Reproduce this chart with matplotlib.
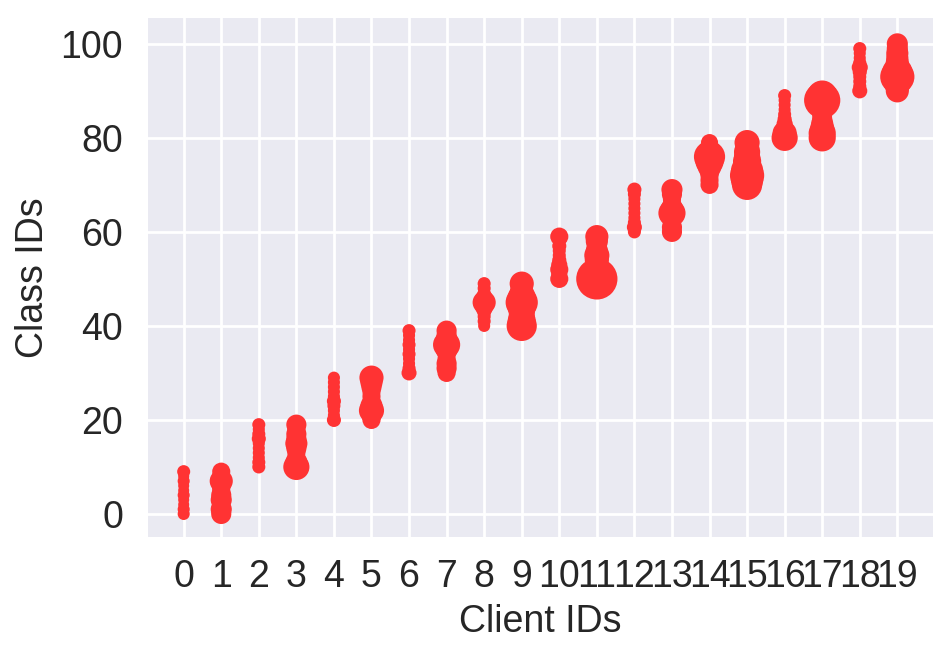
import matplotlib
matplotlib.use("Agg")
import matplotlib.pyplot as plt
import numpy as np

# ---- data ----
client_ids = list(range(20))
class_lo = [0, 0, 10, 10, 20, 20, 30, 30, 40, 40, 50, 50, 60, 60, 70, 70, 80, 80, 90, 90]
class_hi = [9, 9, 19, 19, 29, 29, 39, 39, 49, 49, 59, 59, 69, 69, 79, 79, 89, 89, 99, 100]
sample_counts = [
    [36, 36, 30, 30, 36, 30, 30, 36, 30, 42],
    [100, 110, 81, 110, 100, 81, 90, 132, 81, 81],
    [42, 42, 36, 36, 36, 36, 49, 42, 36, 42],
    [169, 121, 81, 81, 100, 121, 100, 100, 81, 100],
    [49, 36, 36, 42, 49, 36, 36, 36, 36, 36],
    [81, 100, 156, 121, 81, 81, 81, 100, 121, 144],
    [56, 42, 36, 36, 42, 36, 42, 36, 36, 42],
    [81, 100, 100, 81, 81, 121, 182, 121, 100, 100],
    [36, 42, 42, 49, 81, 132, 72, 42, 42, 42],
    [225, 196, 169, 169, 196, 256, 196, 144, 121, 144],
    [81, 64, 81, 64, 49, 42, 42, 49, 42, 81],
    [420, 196, 121, 121, 144, 156, 121, 100, 121, 132],
    [42, 56, 42, 36, 36, 36, 36, 36, 42, 49],
    [100, 100, 81, 100, 182, 121, 81, 81, 100, 110],
    [81, 81, 81, 100, 144, 196, 240, 144, 81, 72],
    [225, 256, 289, 256, 196, 196, 169, 169, 144, 156],
    [169, 144, 81, 64, 49, 42, 36, 36, 36, 42],
    [182, 182, 144, 121, 100, 100, 121, 169, 324, 225],
    [56, 42, 42, 42, 49, 64, 42, 36, 36, 42],
    [132, 144, 196, 289, 225, 144, 132, 121, 121, 110, 110],
]
y_ticks = [0, 20, 40, 60, 80, 100]
x_label = "Client IDs"
y_label = "Class IDs"

# ---- build point table ----
xs, ys, cs = [], [], []
for cid, lo, hi, counts in zip(client_ids, class_lo, class_hi, sample_counts):
    for cls, n in zip(range(lo, hi + 1), counts):
        xs.append(cid)
        ys.append(cls)
        cs.append(n)
xs = np.array(xs)
ys = np.array(ys)
cs = np.array(cs, dtype=float)

SIZE_SCALE = 2.1

plt.rcParams["font.family"] = ["Liberation Sans", "DejaVu Sans"]

fig = plt.figure(figsize=(9.52, 6.57), dpi=100)
ax = fig.add_axes([148 / 952, 1 - 537 / 657, (933 - 148) / 952, (537 - 18) / 657])
ax.set_facecolor("#EAEAF2")
ax.grid(True, color="white", linewidth=2.0)
ax.set_axisbelow(True)
for sp in ax.spines.values():
    sp.set_visible(False)

ax.scatter(xs, ys, s=cs * SIZE_SCALE, color="#FF3333", linewidths=0, zorder=3)

ax.set_xticks(client_ids)
ax.set_xticklabels([str(c) for c in client_ids])
ax.set_yticks(y_ticks)
ax.set_xlim(-0.95, 19.95)
ax.set_ylim(-4.9, 105.5)
ax.tick_params(axis="both", length=0, labelsize=27, colors="#262626")
ax.tick_params(axis="x", pad=16)
ax.tick_params(axis="y", pad=18)

ax.set_xlabel(x_label, fontsize=27, color="#262626", labelpad=6)
ax.set_ylabel(y_label, fontsize=27, color="#262626", labelpad=7)

fig.savefig("out.png", dpi=100)
